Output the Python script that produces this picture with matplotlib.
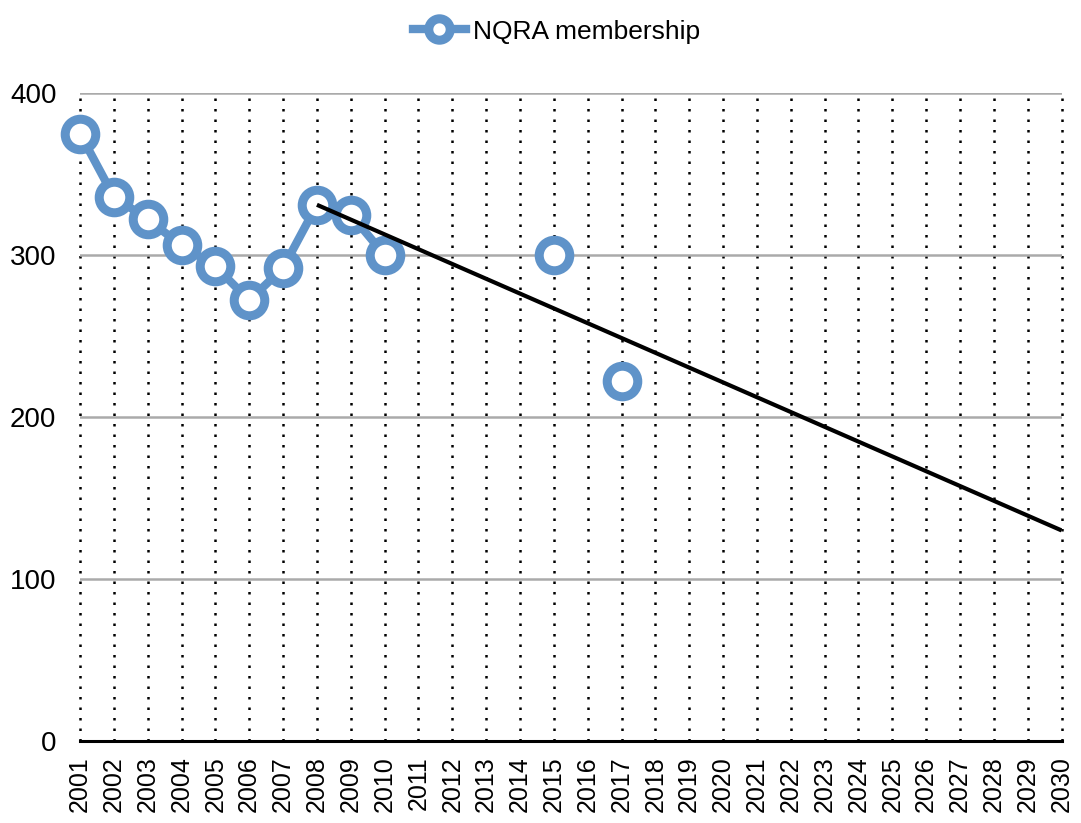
import numpy as np
import matplotlib
matplotlib.use("Agg")
import matplotlib.pyplot as plt

plt.rcParams["font.family"] = ["Liberation Sans", "DejaVu Sans"]

years = list(range(2001, 2031))
membership = {
    2001: 375, 2002: 336, 2003: 322, 2004: 306, 2005: 293,
    2006: 272, 2007: 292, 2008: 331, 2009: 325, 2010: 300,
    2015: 300, 2017: 222,
}
trend_years = [2008, 2030]
trend_values = [331, 130]

values = np.array([membership.get(y, np.nan) for y in years], dtype=float)

blue = "#5f93c9"

fig = plt.figure(figsize=(10.81, 8.23), dpi=100)
ax = fig.add_axes([0.074, 0.0996, 0.908, 0.7874])

# vertical dotted gridlines at each year
for y in years:
    ax.axvline(y, color="black", linestyle=(0, (1, 3.2)), linewidth=1.8,
               zorder=1, clip_on=False)
# horizontal gridlines
for v in [100, 200, 300, 400]:
    ax.axhline(v, color="#aaaaaa", linewidth=1.8, zorder=1)

ax.plot(years, values, color=blue, linewidth=6, marker="o", markersize=22,
        markerfacecolor="white", markeredgecolor=blue, markeredgewidth=6.5,
        label="NQRA membership", zorder=3, clip_on=False)
ax.plot(trend_years, trend_values, color="black", linewidth=3, zorder=4,
        solid_capstyle="butt")

ax.set_xlim(2001, 2030)
ax.set_ylim(0, 400)
ax.set_xticks(years)
ax.set_xticklabels([str(y) for y in years], rotation=90, fontsize=18)
ax.set_yticks([0, 100, 200, 300, 400])
ax.set_yticklabels(["0", "100", "200", "300", "400"], fontsize=20)
ax.tick_params(axis="x", length=0, pad=11)
ax.tick_params(axis="y", length=0, pad=17)

for s in ["left", "right", "top"]:
    ax.spines[s].set_visible(False)
ax.spines["bottom"].set_linewidth(2.2)
ax.spines["bottom"].set_zorder(2)

leg = fig.legend(handles=ax.lines[-2:-1], loc="upper center",
                 bbox_to_anchor=(0.515, 1.005), frameon=False, fontsize=19,
                 handlelength=2.0, markerscale=0.7, handletextpad=0.3)

fig.savefig("out.png", dpi=100)
